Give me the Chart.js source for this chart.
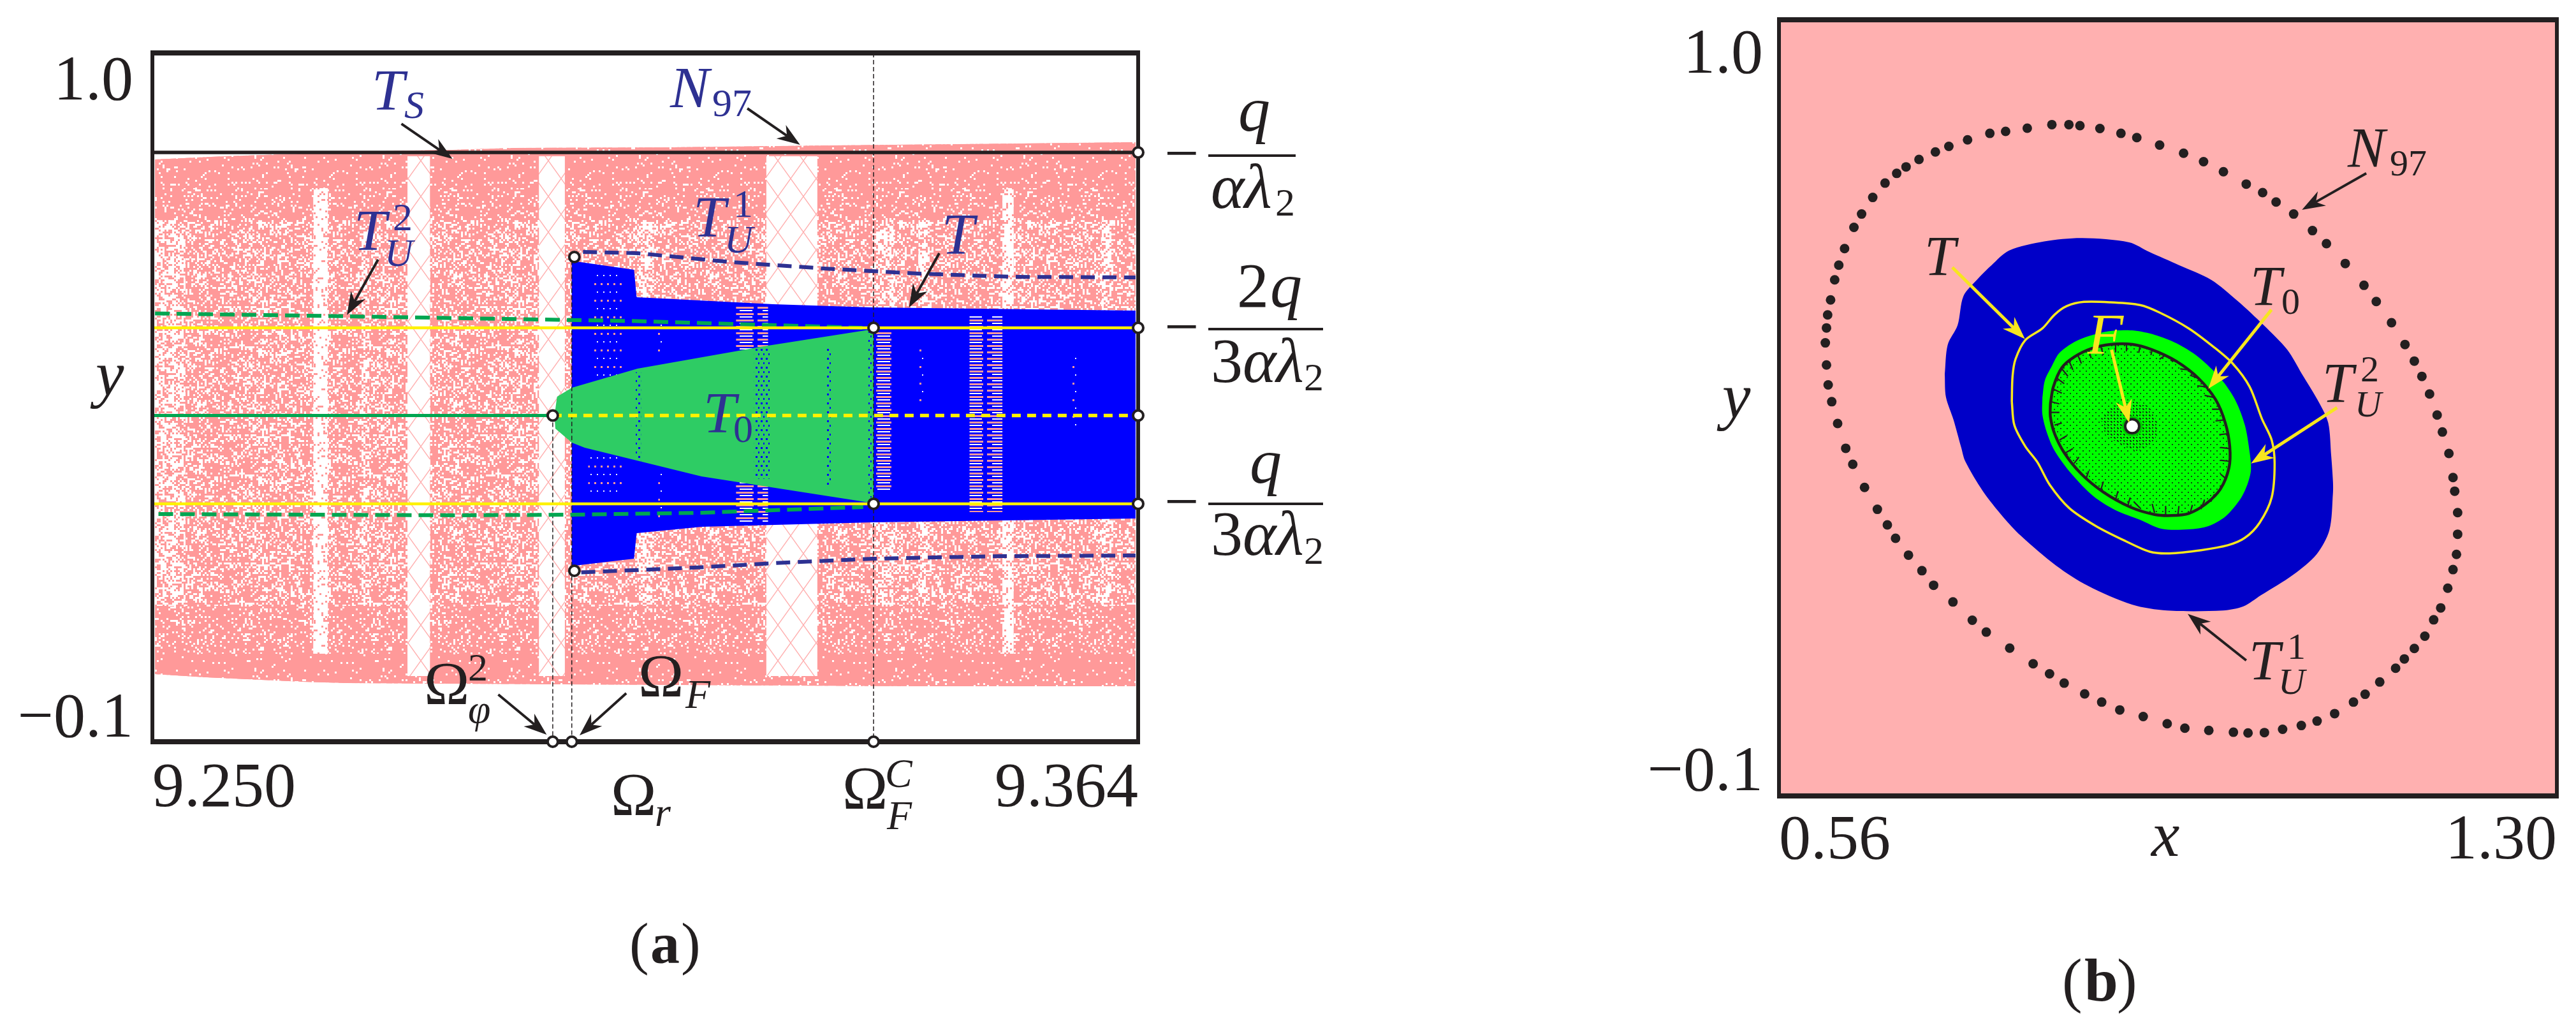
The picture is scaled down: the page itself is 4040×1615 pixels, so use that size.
<!DOCTYPE html>
<html>
<head>
<meta charset="utf-8">
<title>Bifurcation diagram and phase portrait</title>
<script src="https://cdn.jsdelivr.net/npm/chart.js@4/dist/chart.umd.js"></script>
<style>
html, body { margin: 0; background: #fff; overflow: hidden; }
canvas { position: absolute; left: 0; top: 0; }
</style>
</head>
<body>
<canvas id="panelA" width="4040" height="1615"></canvas>
<canvas id="panelB" width="4040" height="1615"></canvas>
<script>
// --- data, panel (a): y against Omega ---
const xTicksA = [9.25, 9.364];
const xTickLabelsA = ['9.250', '9.364'];
const yTicks = [-0.1, 1.0];
const yTickLabels = [['−0.1', ''], ['', '1.0']];

const envTopX = [9.2503, 9.2584, 9.2629, 9.2778, 9.2847, 9.2919, 9.3097, 9.3288, 9.3505, 9.3637];
const envTopY = [0.8299, 0.8350, 0.8370, 0.8436, 0.8452, 0.8482, 0.8493, 0.8523, 0.8554, 0.8574];
const envBotX = [9.2503, 9.2562, 9.2674, 9.2725, 9.2975, 9.3382, 9.3637];
const envBotY = [0.0080, 0.0029, -0.0042, -0.0063, -0.0083, -0.0114, -0.0114];
const denseTopEdge = 0.784;
const denseBotEdge = 0.0406;
const semiTopEdge = 0.733;
const semiBotEdge = 0.117;

const latticeBandsX0 = [9.2795, 9.2947, 9.3210];
const latticeBandsX1 = [9.2821, 9.2977, 9.3269];
const strongBandsX0 = [9.2686, 9.3483];
const strongBandsX1 = [9.2703, 9.3496];
const faintBandsX0 = [9.2503, 9.2742, 9.3061, 9.3337, 9.3386, 9.3597];
const faintBandsX1 = [9.2538, 9.2751, 9.3080, 9.3358, 9.3399, 9.3611];

const tubeTopX = [9.2985, 9.3057, 9.3060, 9.3218, 9.3332, 9.3637];
const tubeTopY = [0.6680, 0.6537, 0.6099, 0.5987, 0.5936, 0.5885];
const tubeBotX = [9.2985, 9.3057, 9.3060, 9.3135, 9.3333, 9.3637];
const tubeBotY = [0.1806, 0.1923, 0.2331, 0.2433, 0.2504, 0.2565];

const t0UpperX = [9.2965, 9.2968, 9.2985, 9.3061, 9.3207, 9.3334];
const t0UpperY = [0.4210, 0.4510, 0.4653, 0.4958, 0.5315, 0.5590];
const t0LowerX = [9.2965, 9.2966, 9.2985, 9.3000, 9.3135, 9.3334];
const t0LowerY = [0.4210, 0.4001, 0.3777, 0.3696, 0.3237, 0.2810];

// speckled columns inside the blue region
const stripeX0 = [9.3175, 9.3445, 9.3337];
const stripeX1 = [9.3212, 9.3483, 9.3357];
const stripeY0 = [0.5946, 0.5814, 0.5549];
const stripeY1 = [0.2494, 0.2667, 0.3013];
const speckX0 = [9.3010, 9.3004, 9.3083, 9.3085, 9.3386, 9.3564];
const speckX1 = [9.3043, 9.3043, 9.3091, 9.3091, 9.3392, 9.3570];
const speckY0 = [0.6466, 0.3604, 0.5702, 0.3359, 0.5356, 0.5182];
const speckY1 = [0.4785, 0.2901, 0.5142, 0.2545, 0.4429, 0.4001];
// speckled columns inside the green region
const greenSpeckX0 = [9.3059, 9.3196, 9.3279, 9.3328];
const greenSpeckX1 = [9.3065, 9.3215, 9.3285, 9.3333];
const greenSpeckY0 = [0.4900, 0.5315, 0.5300, 0.5550];
const greenSpeckY1 = [0.3400, 0.3200, 0.3100, 0.2900];

const levelQ = 0.841;
const level2Q3 = 0.561;
const levelMid = 0.421;
const levelQ3 = 0.280;
const omegaPhi = 9.2963;
const omegaF = 9.2985;
const omegaFC = 9.3334;
const xMinA = 9.25;
const xMaxA = 9.364;

const unstableUpX = [9.2503, 9.2725, 9.3061, 9.3321];
const unstableUpY = [0.5839, 0.5794, 0.5717, 0.5610];
const unstableLowX = [9.2507, 9.2852, 9.2985, 9.3135, 9.3322];
const unstableLowY = [0.2636, 0.2616, 0.2626, 0.2657, 0.2748];
const navyUpX = [9.2998, 9.3061, 9.3170, 9.3277, 9.3386, 9.3494, 9.3637];
const navyUpY = [0.6822, 0.6802, 0.6659, 0.6557, 0.6476, 0.6425, 0.6415];
const navyLowX = [9.2996, 9.3135, 9.3234, 9.3333, 9.3481, 9.3637];
const navyLowY = [0.1704, 0.1786, 0.1863, 0.1923, 0.1964, 0.1974];

const circlesAX = [9.2988, 9.2988, 9.2963, 9.3334, 9.3334, 9.364, 9.364, 9.364, 9.364, 9.2963, 9.2985, 9.3334];
const circlesAY = [0.6741, 0.1730, 0.421, 0.561, 0.280, 0.841, 0.561, 0.421, 0.280, -0.1, -0.1, -0.1];

// arrows: tail x, tail y, tip x, tip y
const arrowsA = [
    [9.2788, 0.8869, 9.2847, 0.8309],
    [9.2761, 0.6700, 9.2725, 0.5814],
    [9.3188, 0.9114, 9.3249, 0.8533],
    [9.3410, 0.6802, 9.3375, 0.5936],
    [9.2900, -0.0246, 9.2956, -0.0888],
    [9.3048, -0.0225, 9.2994, -0.0898]
];

// --- data, panel (b): y against x ---
const xTicksB = [0.56, 1.30];
const xTickLabelsB = ['0.56', '1.30'];

const n97X = [0.6041, 0.6052, 0.6063, 0.6091, 0.6130, 0.6169, 0.6224, 0.6313, 0.6386, 0.6492, 0.6609, 0.6720, 0.6809, 0.6932, 0.7088, 0.7216, 0.7394, 0.7606, 0.7756, 0.7962, 0.8196, 0.8358, 0.8463, 0.8653, 0.8853, 0.9004, 0.9221, 0.9449, 0.9639, 0.9828, 1.0045, 1.0201, 1.0329, 1.0496, 1.0675, 1.0808, 1.0987, 1.1165, 1.1282, 1.1427, 1.1555, 1.1644, 1.1716, 1.1789, 1.1861, 1.1911, 1.1973, 1.2012, 1.2028, 1.2056, 1.2056, 1.2045, 1.2012, 1.1962, 1.1895, 1.1828, 1.1744, 1.1644, 1.1549, 1.1466, 1.1315, 1.1176, 1.1065, 1.0886, 1.0719, 1.0569, 1.0391, 1.0218, 1.0062, 0.9923, 0.9689, 0.9461, 0.9293, 0.9065, 0.8842, 0.8670, 0.8508, 0.8313, 0.8174, 0.8018, 0.7795, 0.7572, 0.7439, 0.7255, 0.7071, 0.6960, 0.6832, 0.6709, 0.6631, 0.6536, 0.6414, 0.6302, 0.6235, 0.6158, 0.6102, 0.6068, 0.6052];
const n97Y = [0.5421, 0.5633, 0.5818, 0.6030, 0.6315, 0.6523, 0.6758, 0.7058, 0.7247, 0.7482, 0.7685, 0.7823, 0.7915, 0.8021, 0.8127, 0.8206, 0.8298, 0.8390, 0.8418, 0.8464, 0.8514, 0.8514, 0.8500, 0.8459, 0.8390, 0.8330, 0.8224, 0.8109, 0.7989, 0.7846, 0.7671, 0.7551, 0.7417, 0.7247, 0.7012, 0.6827, 0.6546, 0.6237, 0.6007, 0.5707, 0.5398, 0.5163, 0.4946, 0.4697, 0.4398, 0.4158, 0.3854, 0.3513, 0.3319, 0.3015, 0.2709, 0.2424, 0.2208, 0.1944, 0.1665, 0.1496, 0.1264, 0.1090, 0.0942, 0.0810, 0.0615, 0.0441, 0.0330, 0.0167, 0.0061, -0.0002, -0.0055, -0.0102, -0.0108, -0.0097, -0.0071, -0.0039, 0.0024, 0.0125, 0.0219, 0.0330, 0.0446, 0.0599, 0.0731, 0.0873, 0.1095, 0.1322, 0.1490, 0.1749, 0.1986, 0.2192, 0.2413, 0.2651, 0.2841, 0.3062, 0.3373, 0.3700, 0.3927, 0.4278, 0.4587, 0.4826, 0.5108];

const basinX = [0.7177, 0.7205, 0.7299, 0.7355, 0.7483, 0.7623, 0.7790, 0.8124, 0.8486, 0.8931, 0.9126, 0.9405, 0.9711, 0.9962, 1.0212, 1.0435, 1.0575, 1.0742, 1.0825, 1.0853, 1.0870, 1.0870, 1.0836, 1.0714, 1.0491, 1.0185, 1.0018, 0.9823, 0.9293, 0.8959, 0.8542, 0.8235, 0.7901, 0.7734, 0.7539, 0.7372, 0.7333, 0.7260, 0.7188, 0.7177];
const basinY = [0.4979, 0.5393, 0.5670, 0.6085, 0.6315, 0.6523, 0.6730, 0.6859, 0.6906, 0.6846, 0.6707, 0.6523, 0.6315, 0.6016, 0.5670, 0.5324, 0.4979, 0.4564, 0.4287, 0.3826, 0.3457, 0.3294, 0.2767, 0.2424, 0.2134, 0.1844, 0.1686, 0.1628, 0.1628, 0.1712, 0.1976, 0.2266, 0.2688, 0.2951, 0.3321, 0.3742, 0.3941, 0.4333, 0.4656, 0.4979];

const focusBasinX = [0.8106, 0.8129, 0.8198, 0.8268, 0.8407, 0.8523, 0.8663, 0.8802, 0.8976, 0.9173, 0.9382, 0.9591, 0.9800, 0.9939, 1.0032, 1.0078, 1.0090, 1.0055, 0.9986, 0.9846, 0.9684, 0.9498, 0.9243, 0.9034, 0.8802, 0.8593, 0.8384, 0.8222, 0.8152, 0.8106, 0.8106];
const focusBasinY = [0.4646, 0.4887, 0.5098, 0.5279, 0.5430, 0.5505, 0.5565, 0.5595, 0.5595, 0.5535, 0.5415, 0.5219, 0.4918, 0.4616, 0.4255, 0.3863, 0.3622, 0.3411, 0.3200, 0.2959, 0.2824, 0.2778, 0.2785, 0.2914, 0.3050, 0.3246, 0.3562, 0.3893, 0.4134, 0.4405, 0.4646];

const t0LoopX = [0.8182, 0.8210, 0.8291, 0.8407, 0.8570, 0.8755, 0.8964, 0.9150, 0.9382, 0.9591, 0.9754, 0.9846, 0.9888, 0.9881, 0.9800, 0.9661, 0.9498, 0.9336, 0.9173, 0.8941, 0.8686, 0.8477, 0.8314, 0.8222, 0.8182, 0.8182];
const t0LoopY = [0.4556, 0.4797, 0.5068, 0.5219, 0.5339, 0.5400, 0.5400, 0.5324, 0.5159, 0.4918, 0.4616, 0.4285, 0.3953, 0.3652, 0.3351, 0.3140, 0.3004, 0.2974, 0.2989, 0.3095, 0.3306, 0.3562, 0.3863, 0.4134, 0.4375, 0.4556];

// short spiral ends just inside the T0 loop, null breaks the line between them
const hooksX = [0.9034, 0.8976, null, 0.9173, 0.9150, null, 0.9278, 0.9278, null, 0.9394, 0.9405, null, 0.9510, 0.9533, null, 0.9614, 0.9649, null, 0.9707, 0.9742, null, 0.9788, 0.9823, null, 0.9846, 0.9800, null, 0.9881, 0.9800, null, 0.9888, 0.9800, null, 0.9869, 0.9788, null, 0.9835, 0.9753, null, 0.9811, 0.9719, null, 0.9742, 0.9649, null, 0.9672, 0.9579, null, 0.9591, 0.9510, null, 0.9498, 0.9417, null, 0.9382, 0.9324, null, 0.9278, 0.9220, null, 0.9150, 0.9138, null, 0.9034, 0.9022, null, 0.8906, 0.8906, null, 0.8802, 0.8802, null, 0.8662, 0.8686, null, 0.8546, 0.8570, null, 0.8442, 0.8477, null, 0.8361, 0.8396, null, 0.8291, 0.8349, null, 0.8245, 0.8314, null, 0.8210, 0.8291, null, 0.8191, 0.8268, null, 0.8191, 0.8268, null, 0.8222, 0.8291, null, 0.8268, 0.8338, null, 0.8326, 0.8396, null, 0.8407, 0.8454, null, 0.8523, 0.8546, null, 0.8662, 0.8686, null, 0.8802, 0.8825, null, 0.8918, 0.8941];
const hooksY = [0.3080, 0.3170, null, 0.3014, 0.3140, null, 0.2989, 0.3110, null, 0.2974, 0.3110, null, 0.3004, 0.3125, null, 0.3065, 0.3200, null, 0.3170, 0.3276, null, 0.3321, 0.3411, null, 0.3502, 0.3562, null, 0.3743, 0.3758, null, 0.3923, 0.3938, null, 0.4134, 0.4119, null, 0.4330, 0.4315, null, 0.4481, 0.4481, null, 0.4646, 0.4677, null, 0.4797, 0.4812, null, 0.4918, 0.4963, null, 0.5038, 0.5053, null, 0.5159, 0.5174, null, 0.5249, 0.5189, null, 0.5324, 0.5249, null, 0.5369, 0.5279, null, 0.5394, 0.5309, null, 0.5400, 0.5294, null, 0.5369, 0.5249, null, 0.5324, 0.5204, null, 0.5249, 0.5128, null, 0.5159, 0.5038, null, 0.5053, 0.4948, null, 0.4918, 0.4842, null, 0.4767, 0.4707, null, 0.4586, 0.4556, null, 0.4436, 0.4436, null, 0.4255, 0.4285, null, 0.4044, 0.4104, null, 0.3863, 0.3923, null, 0.3713, 0.3803, null, 0.3502, 0.3607, null, 0.3336, 0.3456, null, 0.3200, 0.3321, null, 0.3110, 0.3230];

const coreX = [0.8662, 0.8779, 0.8964, 0.9104, 0.9196, 0.9173, 0.9011, 0.8848, 0.8709, 0.8662];
const coreY = [0.4345, 0.4526, 0.4586, 0.4526, 0.4285, 0.4044, 0.3893, 0.3984, 0.4134, 0.4345];

const tLoopX = [0.7815, 0.7822, 0.7850, 0.7943, 0.8106, 0.8222, 0.8338, 0.8500, 0.8755, 0.9034, 0.9220, 0.9498, 0.9730, 0.9916, 1.0078, 1.0194, 1.0287, 1.0315, 1.0287, 1.0171, 1.0032, 0.9870, 0.9614, 0.9313, 0.9127, 0.8895, 0.8616, 0.8361, 0.8175, 0.8059, 0.7943, 0.7839, 0.7815];
const tLoopY = [0.4586, 0.4948, 0.5189, 0.5460, 0.5626, 0.5821, 0.5942, 0.6002, 0.5996, 0.5957, 0.5851, 0.5626, 0.5369, 0.5128, 0.4797, 0.4345, 0.4044, 0.3713, 0.3230, 0.2869, 0.2658, 0.2553, 0.2483, 0.2438, 0.2462, 0.2613, 0.2824, 0.3080, 0.3411, 0.3728, 0.3954, 0.4255, 0.4586];

const focusX = [0.8960];
const focusY = [0.4240];

const arrowsBDark = [
    [1.1187, 0.7823, 1.0575, 0.7307],
    [1.0045, 0.0921, 0.9488, 0.1580]
];
const arrowsBYellow = [
    [0.7249, 0.6491, 0.7940, 0.5476],
    [1.0285, 0.5891, 0.9684, 0.4771],
    [1.0909, 0.4504, 1.0090, 0.3711],
    [0.8764, 0.5324, 0.8931, 0.4287]
];

// --- colours and fonts ---
const INK = '#231f20';
const NAVY = '#2e3192';
const PINK = '#ff9999';
const GREEN_LINE = '#00a651';
const YELLOW = '#fff200';
const YELLOW_B = '#f7e61e';
const SERIF = '"Liberation Serif"';

// --- fill textures ---
function makeTile(w, h, draw) {
    const c = document.createElement('canvas');
    c.width = w;
    c.height = h;
    const g = c.getContext('2d');
    draw(g);
    return g.createPattern(c, 'repeat');
}

// fixed integer mix, only a speckle for the dense orbit area
function dither(limit) {
    return makeTile(201, 201, g => {
        g.fillStyle = PINK;
        g.fillRect(0, 0, 201, 201);
        g.fillStyle = '#ffffff';
        for (let i = 0; i < 67; i++) {
            for (let j = 0; j < 67; j++) {
                if (((i * 73) ^ (j * 151) ^ (i * j * 17)) % 97 < limit) g.fillRect(i * 3, j * 3, 3, 3);
            }
        }
    });
}

const moire = dither(30);
const semi = dither(15);
const dense = dither(5);
const faint = dither(56);
const strong = dither(82);
const lattice = makeTile(40, 56, g => {
    g.fillStyle = '#fff';
    g.fillRect(0, 0, 40, 56);
    g.strokeStyle = '#ffb0b0';
    g.lineWidth = 1.4;
    g.beginPath();
    g.moveTo(0, 0); g.lineTo(40, 56);
    g.moveTo(40, 0); g.lineTo(0, 56);
    g.stroke();
});
const stripes = makeTile(36, 10, g => {
    g.fillStyle = '#0000ff';
    g.fillRect(0, 0, 36, 10);
    g.fillStyle = '#ff9a9a';
    g.fillRect(0, 1, 30, 3);
    g.fillStyle = '#ffffff';
    g.fillRect(8, 6, 20, 2);
});
const specks = makeTile(10, 26, g => {
    g.fillStyle = '#ff9a9a';
    g.fillRect(2, 2, 3, 3);
    g.fillStyle = '#ffffff';
    g.fillRect(6, 15, 2, 2);
});
const greenSpecks = makeTile(8, 14, g => {
    g.fillStyle = '#0000ff';
    g.fillRect(1, 1, 3, 3);
    g.fillRect(5, 8, 2, 3);
});
const sparseDots = makeTile(10, 10, g => {
    g.fillStyle = 'rgba(20,30,20,0.8)';
    g.fillRect(1, 1, 2, 2);
    g.fillRect(6, 6, 2, 2);
});
const coreDots = makeTile(5, 5, g => {
    g.fillStyle = 'rgba(20,30,20,0.85)';
    g.fillRect(0, 0, 2, 2);
});

// --- dataset helpers ---
function pts(xs, ys) {
    return xs.map((x, i) => ({ x: x, y: ys[i] }));
}

function poly(xs, ys, color, tension) {
    return { data: pts(xs, ys), fill: 'shape', backgroundColor: color, borderWidth: 0, pointRadius: 0, tension: tension || 0 };
}

function band(x0, x1, y0, y1, color) {
    return poly([x0, x1, x1, x0, x0], [y0, y0, y1, y1, y0], color);
}

function curve(xs, ys, color, width, dash) {
    return { data: pts(xs, ys), borderColor: color, borderWidth: width, borderDash: dash || [], pointRadius: 0, fill: false };
}

function closedBetween(topX, topY, botX, botY) {
    return {
        x: topX.concat(botX.slice().reverse(), [topX[0]]),
        y: topY.concat(botY.slice().reverse(), [topY[0]])
    };
}

// --- plugins: frame, arrows, text ---
function drawFrame(chart) {
    const { left, right, top, bottom } = chart.chartArea;
    const ctx = chart.ctx;
    ctx.save();
    ctx.strokeStyle = INK;
    ctx.lineWidth = 8;
    ctx.beginPath();
    ctx.moveTo(left - 3, top); ctx.lineTo(right + 3, top);
    ctx.moveTo(left - 3, bottom); ctx.lineTo(right + 3, bottom);
    ctx.stroke();
    ctx.lineWidth = 6;
    ctx.beginPath();
    ctx.moveTo(left, top); ctx.lineTo(left, bottom);
    ctx.moveTo(right, top); ctx.lineTo(right, bottom);
    ctx.stroke();
    ctx.restore();
}

const framePlugin = {
    id: 'frameUnderMarkers',
    beforeDatasetDraw(chart, args) {
        if (chart.data.datasets[args.index].label === 'markers') drawFrame(chart);
    }
};

function drawArrow(ctx, x0, y0, x1, y1, color, width) {
    const a = Math.atan2(y1 - y0, x1 - x0);
    const len = 36, wing = 13, notch = 25;
    const cos = Math.cos(a), sin = Math.sin(a);
    ctx.strokeStyle = color;
    ctx.fillStyle = color;
    ctx.lineWidth = width;
    ctx.beginPath();
    ctx.moveTo(x0, y0);
    ctx.lineTo(x1 - cos * notch, y1 - sin * notch);
    ctx.stroke();
    ctx.beginPath();
    ctx.moveTo(x1, y1);
    ctx.lineTo(x1 - cos * len - sin * wing, y1 - sin * len + cos * wing);
    ctx.lineTo(x1 - cos * notch, y1 - sin * notch);
    ctx.lineTo(x1 - cos * len + sin * wing, y1 - sin * len - cos * wing);
    ctx.closePath();
    ctx.fill();
}

function arrowPlugin(groups) {
    return {
        id: 'arrows',
        afterDatasetsDraw(chart) {
            const ctx = chart.ctx, sx = chart.scales.x, sy = chart.scales.y;
            ctx.save();
            groups.forEach(g => g.list.forEach(a => {
                drawArrow(ctx, sx.getPixelForValue(a[0]), sy.getPixelForValue(a[1]),
                    sx.getPixelForValue(a[2]), sy.getPixelForValue(a[3]), g.color, g.width);
            }));
            ctx.restore();
        }
    };
}

// text, left x, baseline y, font style, size, colour
function textPlugin(items, bars) {
    return {
        id: 'notes',
        afterDraw(chart) {
            const ctx = chart.ctx;
            ctx.save();
            ctx.textBaseline = 'alphabetic';
            ctx.textAlign = 'left';
            items.forEach(t => {
                ctx.font = `${t[3]} ${t[4]}px ${SERIF}`;
                ctx.fillStyle = t[5] || INK;
                ctx.fillText(t[0], t[1], t[2]);
            });
            ctx.fillStyle = INK;
            (bars || []).forEach(b => ctx.fillRect(b[0], b[1] - 2, b[2] - b[0], 4));
            ctx.restore();
        }
    };
}

const I = 'italic', R = 'normal', B = 'bold';

const notesA = [
    ['T', 583, 172, I, 92, NAVY], ['S', 634, 185, I, 62, NAVY],
    ['T', 555, 392, I, 92, NAVY], ['2', 616, 361, R, 62, NAVY], ['U', 603, 417, I, 62, NAVY],
    ['N', 1051, 168, I, 92, NAVY], ['97', 1117, 182, R, 62, NAVY],
    ['T', 1087, 371, I, 92, NAVY], ['1', 1150, 340, R, 62, NAVY], ['U', 1136, 396, I, 62, NAVY],
    ['T', 1477, 398, I, 92, NAVY],
    ['T', 1103, 678, I, 92, NAVY], ['0', 1150, 693, R, 62, NAVY],
    ['y', 150, 620, I, 100],
    ['Ω', 665, 1104, R, 96], ['2', 734, 1067, R, 62], ['φ', 734, 1133, I, 64],
    ['Ω', 1001, 1092, R, 96], ['F', 1075, 1110, I, 64],
    ['Ω', 958, 1278, R, 96], ['r', 1027, 1295, I, 64],
    ['Ω', 1321, 1268, R, 96], ['C', 1388, 1234, I, 64], ['F', 1391, 1300, I, 64],
    ['−', 1826, 272, R, 96], ['q', 1942, 205, I, 100], ['αλ', 1899, 326, I, 100], ['2', 2000, 338, R, 62],
    ['−', 1826, 544, R, 96], ['2', 1940, 481, R, 100], ['q', 1992, 481, I, 100], ['3', 1899, 599, R, 100], ['αλ', 1949, 599, I, 100], ['2', 2045, 612, R, 62],
    ['−', 1826, 818, R, 96], ['q', 1960, 757, I, 100], ['3', 1899, 870, R, 100], ['αλ', 1949, 870, I, 100], ['2', 2045, 884, R, 62],
    ['(', 987, 1510, R, 92], ['a', 1020, 1510, B, 92], [')', 1068, 1510, R, 92]
];
const fractionBars = [[1895, 244, 2032], [1895, 516, 2075], [1895, 790, 2075]];

const notesB = [
    ['N', 3682, 261, I, 88], ['97', 3748, 275, R, 58],
    ['T', 3018, 431, I, 88],
    ['T', 3529, 478, I, 88], ['0', 3578, 492, R, 58],
    ['T', 3642, 630, I, 88], ['2', 3702, 598, R, 58], ['U', 3693, 653, I, 58],
    ['F', 3274, 555, I, 92, YELLOW_B],
    ['T', 3527, 1065, I, 88], ['1', 3587, 1033, R, 58], ['U', 3573, 1088, I, 58],
    ['x', 3374, 1342, I, 100],
    ['y', 2701, 655, I, 100],
    ['(', 3234, 1569, R, 95], ['b', 3269, 1569, B, 95], [')', 3320, 1569, R, 95]
];

// --- shared chart options ---
function scaleOptions(area, xMin, xMax, xTicks, xLabels, yMin, yMax, yPad, xPad, yLines) {
    const tickFont = { family: SERIF, size: 100 };
    return {
        x: {
            type: 'linear', min: xMin, max: xMax,
            grid: { display: false, drawTicks: false }, border: { display: false },
            afterBuildTicks: s => { s.ticks = xTicks.map(v => ({ value: v })); },
            afterFit: s => { s.height = 1615 - area.bottom; },
            ticks: {
                autoSkip: false, maxRotation: 0, align: 'inner', padding: xPad, color: INK, font: tickFont,
                callback: (v, i) => xLabels[i]
            }
        },
        y: {
            type: 'linear', min: yMin, max: yMax,
            grid: { display: false, drawTicks: false }, border: { display: false },
            afterBuildTicks: s => { s.ticks = yTicks.map(v => ({ value: v })); },
            afterFit: s => {
                s.width = area.left - area.pad;
                s.paddingTop = 0;
                s.paddingBottom = 0;
            },
            ticks: {
                autoSkip: false, maxRotation: 0, padding: yPad, color: INK,
                font: c => ({ family: SERIF, size: 100, lineHeight: yLines[c.index] || '100px' }),
                callback: (v, i) => yTickLabels[i]
            }
        }
    };
}

function baseOptions(area, scales) {
    return {
        responsive: false,
        animation: false,
        events: [],
        layout: { padding: { left: area.pad, right: 4040 - area.right, top: area.top, bottom: 0 } },
        elements: { line: { tension: 0, borderJoinStyle: 'round' } },
        plugins: { legend: { display: false }, tooltip: { enabled: false } },
        scales: scales
    };
}

// --- panel (a) ---
function initPanelA() {
    const area = { left: 239, right: 1785, top: 83, bottom: 1163, pad: 0 };
    const layers = [];
    const xL = envTopX[0], xR = envTopX[9];

    const env = closedBetween(envTopX, envTopY, envBotX, envBotY);
    layers.push(poly(env.x, env.y, moire));
    layers.push(band(xL, xR, denseTopEdge, semiTopEdge, semi));
    layers.push(band(xL, xR, semiBotEdge, denseBotEdge, semi));
    const topStrip = closedBetween(envTopX, envTopY, [xL, xR], [denseTopEdge, denseTopEdge]);
    layers.push(poly(topStrip.x, topStrip.y, dense));
    const botStrip = closedBetween([xL, xR], [denseBotEdge, denseBotEdge], envBotX, envBotY);
    layers.push(poly(botStrip.x, botStrip.y, dense));
    faintBandsX0.forEach((x, i) => layers.push(band(x, faintBandsX1[i], semiTopEdge, semiBotEdge, faint)));
    strongBandsX0.forEach((x, i) => layers.push(band(x, strongBandsX1[i], denseTopEdge, denseBotEdge, strong)));
    latticeBandsX0.forEach((x, i) => layers.push(band(x, latticeBandsX1[i], 0.835, 0.005, lattice)));

    const tube = closedBetween(tubeTopX, tubeTopY, tubeBotX, tubeBotY);
    layers.push(poly(tube.x, tube.y, '#0000ff'));
    stripeX0.forEach((x, i) => layers.push(band(x, stripeX1[i], stripeY0[i], stripeY1[i], stripes)));
    speckX0.forEach((x, i) => layers.push(band(x, speckX1[i], speckY0[i], speckY1[i], specks)));

    const t0 = closedBetween(t0UpperX, t0UpperY, t0LowerX, t0LowerY);
    layers.push(poly(t0.x, t0.y, '#2ecc64'));
    greenSpeckX0.forEach((x, i) => layers.push(band(x, greenSpeckX1[i], greenSpeckY0[i], greenSpeckY1[i], greenSpecks)));

    layers.push(curve([omegaPhi, omegaPhi], [levelMid, -0.1], INK, 1.5, [7, 4]));
    layers.push(curve([omegaF, omegaF], [0.68, -0.1], INK, 1.5, [7, 4]));
    layers.push(curve([omegaFC, omegaFC], [1.0, -0.1], INK, 1.5, [7, 4]));

    layers.push(curve(unstableUpX, unstableUpY, GREEN_LINE, 6, [23, 11]));
    layers.push(curve(unstableLowX, unstableLowY, GREEN_LINE, 6, [23, 11]));
    layers.push(curve([xMinA, xMaxA], [level2Q3, level2Q3], YELLOW, 4.5));
    layers.push(curve([xMinA, xMaxA], [levelQ3, levelQ3], YELLOW, 4.5));
    layers.push(curve([xMinA, omegaPhi], [levelMid, levelMid], GREEN_LINE, 5));
    layers.push(curve([omegaPhi, xMaxA], [levelMid, levelMid], YELLOW, 5.5, [14, 10]));
    layers.push(curve(navyUpX, navyUpY, NAVY, 6, [22, 12]));
    layers.push(curve(navyLowX, navyLowY, NAVY, 6, [22, 12]));
    layers.push(curve([xMinA, xMaxA], [levelQ, levelQ], INK, 5.5));

    layers.push({
        label: 'markers', data: pts(circlesAX, circlesAY), showLine: false, clip: false,
        pointRadius: 8, pointBorderWidth: 4, pointBackgroundColor: '#fff', pointBorderColor: INK
    });

    new Chart(document.getElementById('panelA'), {
        type: 'line',
        data: { datasets: layers.reverse() },
        options: baseOptions(area, scaleOptions(area, xMinA, xMaxA, xTicksA, xTickLabelsA, -0.1, 1.0, 30, 15, ['68px', '94px'])),
        plugins: [framePlugin,
            arrowPlugin([{ list: arrowsA, color: INK, width: 4 }]),
            textPlugin(notesA, fractionBars)]
    });
}

// --- panel (b) ---
function initPanelB() {
    const area = { left: 2790, right: 4010, top: 31, bottom: 1248, pad: 2000 };
    const layers = [];

    layers.push(band(0.56, 1.30, -0.1, 1.0, '#ffb0b0'));
    layers.push(poly(basinX, basinY, '#0000c8', 0.3));
    layers.push(poly(focusBasinX, focusBasinY, '#00ff00', 0.3));

    const loop = poly(t0LoopX, t0LoopY, sparseDots, 0.3);
    loop.borderColor = INK;
    loop.borderWidth = 4.5;
    layers.push(loop);
    layers.push(curve(hooksX, hooksY, INK, 2.2));
    layers.push(poly(coreX, coreY, coreDots, 0.3));
    const tCurve = curve(tLoopX, tLoopY, YELLOW_B, 3.5);
    tCurve.tension = 0.3;
    layers.push(tCurve);

    layers.push({
        data: pts(n97X, n97Y), showLine: false,
        pointRadius: 7.5, pointBorderWidth: 0, pointBackgroundColor: INK
    });
    layers.push({
        data: pts(focusX, focusY), showLine: false,
        pointRadius: 16, pointBorderWidth: 0, pointBackgroundColor: '#00c800'
    });
    layers.push({
        label: 'markers', data: pts(focusX, focusY), showLine: false,
        pointRadius: 11, pointBorderWidth: 4, pointBackgroundColor: '#fff', pointBorderColor: INK
    });

    new Chart(document.getElementById('panelB'), {
        type: 'line',
        data: { datasets: layers.reverse() },
        options: baseOptions(area, scaleOptions(area, 0.56, 1.30, xTicksB, xTickLabelsB, -0.1, 1.0, 25, 12, ['70px', '114px'])),
        plugins: [framePlugin,
            arrowPlugin([
                { list: arrowsBDark, color: INK, width: 4 },
                { list: arrowsBYellow, color: YELLOW_B, width: 5 }
            ]),
            textPlugin(notesB)]
    });
}

initPanelA();
initPanelB();
</script>
</body>
</html>
